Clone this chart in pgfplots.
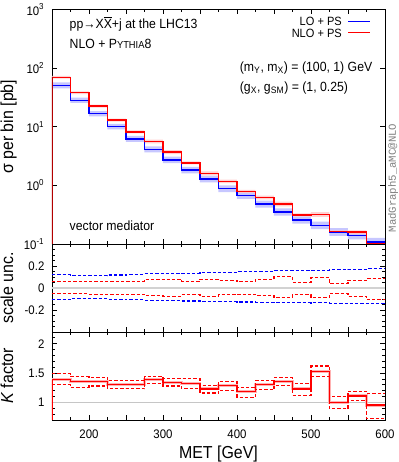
\documentclass[border=0pt]{standalone}
\usepackage{pgfplots}
\pgfplotsset{compat=1.18}
\usepackage{pgfplotstable}
\usepgfplotslibrary{fillbetween}
\usepackage{fontspec}
\setmainfont{Liberation Sans}[FakeStretch=0.92]
\setmonofont{Liberation Mono}

\pgfplotstableread{
x lo nlo lou lod nlou nlod k ku kd
150 50.8 69.7 0.120 -0.108 0.060 -0.052 1.39 1.49 1.30
175 28.2 38.0 0.112 -0.096 0.060 -0.052 1.35 1.44 1.26
200 16.7 22.5 0.110 -0.096 0.062 -0.055 1.35 1.43 1.28
225 10.0 13.0 0.118 -0.102 0.062 -0.055 1.31 1.37 1.23
250 6.2 8.2 0.125 -0.108 0.060 -0.058 1.31 1.37 1.23
275 4.1 5.6 0.130 -0.111 0.078 -0.071 1.39 1.44 1.32
300 2.72 3.70 0.133 -0.115 0.081 -0.074 1.34 1.40 1.28
325 1.82 2.43 0.136 -0.118 0.060 -0.062 1.32 1.40 1.23
350 1.28 1.60 0.143 -0.124 0.081 -0.074 1.23 1.29 1.16
375 0.88 1.17 0.140 -0.124 0.072 -0.062 1.29 1.36 1.21
400 0.675 0.79 0.146 -0.127 0.056 -0.058 1.18 1.26 1.09
425 0.48 0.62 0.149 -0.130 0.078 -0.068 1.30 1.375 1.215
450 0.35 0.48 0.158 -0.130 0.102 -0.090 1.35 1.42 1.29
475 0.256 0.315 0.158 -0.133 0.053 -0.062 1.23 1.32 1.12
500 0.207 0.32 0.161 -0.136 0.093 -0.090 1.53 1.62 1.44
525 0.16 0.164 0.167 -0.139 0.037 -0.052 1.00 1.10 0.89
550 0.14 0.16 0.170 -0.142 0.072 -0.077 1.11 1.19 1.03
575 0.108 0.101 0.177 -0.145 0.087 -0.105 0.955 1.15 0.73
600 0.108 0.101 0.177 -0.145 0.087 -0.105 0.955 1.15 0.73
}\data

\pgfplotsset{
  panel/.style={
    scale only axis, width=249.75pt,
    xmin=150, xmax=600,
    xtick={150,200,...,600}, minor xtick={175,225,...,575},
    tick align=inside, major tick length=3.75pt, minor tick length=2.25pt,
    axis line style={black, line width=0.7pt},
    every tick/.style={black, line width=0.6pt},
    tick label style={font=\fontsize{9.3}{10}\selectfont},
    /pgf/number format/assume math mode=true,
    label style={font=\fontsize{13}{14}\selectfont},
    ylabel style={at={(rel axis cs:-0.117,0.5)}, anchor=base},
    yticklabel style={xshift=-2.2pt},
    xticklabel style={yshift=-4pt},
  },
}

\begin{document}
\begin{tikzpicture}
\begin{axis}[panel, name=main, height=175.875pt,
  ymode=log, log basis y=10, ymin=0.1, ymax=1000,
  ytick={0.1,1,10,100,1000},
  log number format basis/.code 2 args={#1\textsuperscript{\pgfmathprintnumber{#2}}},
  xticklabels={},
  ylabel={σ per bin [pb]},
]
\addplot[const plot, draw=none, name path=bu, forget plot] table[x=x, y expr=\thisrow{lo}*(1+\thisrow{lou})]{\data};
\addplot[const plot, draw=none, name path=bd, forget plot] table[x=x, y expr=\thisrow{lo}*(1+\thisrow{lod})]{\data};
\addplot[fill=blue!22, draw=none, forget plot] fill between[of=bu and bd];
\addplot[const plot, draw=none, name path=ru, forget plot] table[x=x, y expr=\thisrow{nlo}*(1+\thisrow{nlou})]{\data};
\addplot[const plot, draw=none, name path=rd, forget plot] table[x=x, y expr=\thisrow{nlo}*(1+\thisrow{nlod})]{\data};
\addplot[fill=red!22, draw=none, fill opacity=0.8, forget plot] fill between[of=ru and rd];
\addplot[const plot, draw=blue, line width=1.1pt, forget plot] table[x=x, y=lo]{\data};
\addplot[const plot, draw=red, line width=1.1pt, forget plot] table[x=x, y=nlo]{\data};
\addplot[draw=red!70!black, line width=1.1pt, forget plot] coordinates {(150,0.1) (150,69.7)};
\node[anchor=east, font=\fontsize{9}{10}\selectfont, inner sep=0pt] at (rel axis cs:0.871,0.948) {LO + PS};
\node[anchor=east, font=\fontsize{9}{10}\selectfont, inner sep=0pt] at (rel axis cs:0.871,0.899) {NLO + PS};
\draw[blue, line width=0.8pt] (rel axis cs:0.889,0.950) -- (rel axis cs:0.955,0.950);
\draw[red, line width=0.8pt] (rel axis cs:0.889,0.901) -- (rel axis cs:0.955,0.901);
\node[anchor=west, font=\fontsize{10}{11}\selectfont] at (rel axis cs:0.039,0.938) {pp→X$\overline{\mbox{X}}$+j at the LHC13};
\node[anchor=west, font=\fontsize{10}{11}\selectfont] at (rel axis cs:0.039,0.853) {NLO + P{\fontsize{7.6}{8}\selectfont YTHIA}8};
\node[anchor=west, font=\fontsize{10}{11}\selectfont] at (rel axis cs:0.55,0.75) {(m\textsubscript{Y}, m\textsubscript{X}) = (100, 1) GeV};
\node[anchor=west, font=\fontsize{10}{11}\selectfont] at (rel axis cs:0.55,0.665) {(g\textsubscript{X}, g\textsubscript{SM}) = (1, 0.25)};
\node[anchor=west, font=\fontsize{10}{11}\selectfont] at (rel axis cs:0.039,0.077) {vector mediator};
\end{axis}
\node[rotate=90, anchor=west, font=\ttfamily\fontsize{8}{9}\selectfont, text=gray, inner sep=0pt] at ([xshift=6pt, yshift=8.5pt]main.south east) {MadGraph5\_aMC@NLO};

\begin{axis}[panel, name=mid, height=66pt, at={(main.south west)}, anchor=north west,
  ymin=-0.4, ymax=0.4, ytick={-0.2,0,0.2}, yticklabels={-0.2,0,0.2},
  minor ytick={-0.35,-0.3,...,0.36},
  xticklabels={},
  ylabel={scale unc.},
]
\addplot[draw=gray!35, line width=1.2pt] coordinates {(150,0) (600,0)};
\addplot[const plot, draw=blue, line width=0.8pt, dash pattern=on 2.5pt off 1.5pt] table[x=x, y=lou]{\data};
\addplot[const plot, draw=blue, line width=0.8pt, dash pattern=on 2.5pt off 1.5pt] table[x=x, y=lod]{\data};
\addplot[const plot, draw=red, line width=0.8pt, dash pattern=on 2.5pt off 1.5pt] table[x=x, y=nlou]{\data};
\addplot[const plot, draw=red, line width=0.8pt, dash pattern=on 2.5pt off 1.5pt] table[x=x, y=nlod]{\data};
\end{axis}

\begin{axis}[panel, name=kf, height=66pt, at={(mid.south west)}, anchor=north west,
  ymin=0.7, ymax=2.2, ytick={1,1.5,2}, yticklabels={1,1.5,2},
  minor ytick={0.8,0.9,...,2.15},
  xticklabels={,200,,300,,400,,500,,600},
  ylabel={\textit{K} factor},
  xlabel={MET [GeV]},
  xlabel style={at={(rel axis cs:0.5,-0.433)}, anchor=base},
]
\addplot[draw=gray!45, line width=0.8pt] coordinates {(150,1) (600,1)};
\addplot[const plot, draw=red!30, line width=2.2pt] table[x=x, y=k]{\data};
\addplot[const plot, draw=red, line width=0.9pt] table[x=x, y=k]{\data};
\addplot[draw=red, line width=0.9pt] coordinates {(150,0.7) (150,1.39)};
\addplot[const plot, draw=red, line width=0.8pt, dash pattern=on 2.5pt off 1.5pt] table[x=x, y=ku]{\data};
\addplot[const plot, draw=red, line width=0.8pt, dash pattern=on 2.5pt off 1.5pt] table[x=x, y=kd]{\data};
\end{axis}

\pgfresetboundingbox
\path ([xshift=-39pt, yshift=7.125pt]main.north west) rectangle ++(299.25pt,-346.5pt);
\end{tikzpicture}
\end{document}
